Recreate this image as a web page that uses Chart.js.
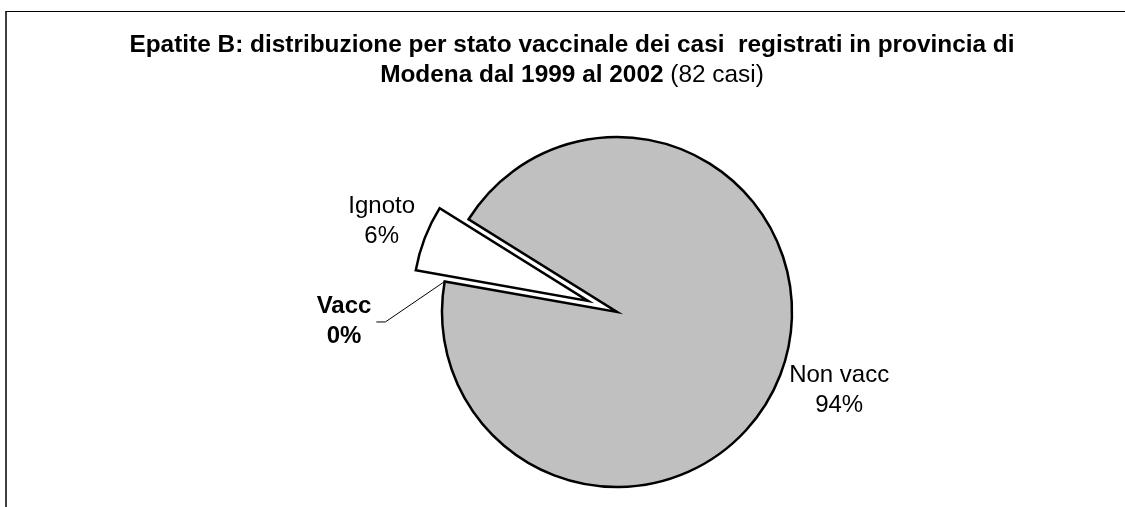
<!DOCTYPE html>
<html lang="it">
<head>
<meta charset="utf-8">
<title>Epatite B - stato vaccinale</title>
<script src="https://cdn.jsdelivr.net/npm/chart.js@4.4.0/dist/chart.umd.min.js"></script>
<style>
  html, body { margin: 0; padding: 0; background: #fff; overflow: hidden; }
  #wrap { position: relative; width: 1125px; height: 507px; overflow: hidden; font-family: 'Liberation Sans', Arial, sans-serif; }
  .cornice { position: absolute; left: 5px; top: 11px; width: 1300px; height: 700px; border-top: 1px solid #000; border-left: 2px solid #404040; }
  .titolo { position: absolute; left: 72px; width: 1000px; top: 29px; text-align: center; font-size: 24.4px; line-height: 30px; color: #000; white-space: pre; }
  canvas { position: absolute; left: 0; top: 0; }
</style>
</head>
<body>
<div id="wrap">
  <div class="cornice"></div>
  <canvas id="pieChart" width="1125" height="507"></canvas>
  <div class="titolo"><b>Epatite B: distribuzione per stato vaccinale dei casi  registrati in provincia di</b><br><b>Modena dal 1999 al 2002</b> (82 casi)</div>
</div>
<script>
// dati (82 casi in totale)
const categorie = ['Non vacc', 'Vacc', 'Ignoto'];
const casi = [77, 0, 5];
const coloriFette = ['#C0C0C0', '#FFFFFF', '#FFFFFF'];

const totale = casi.reduce((a, b) => a + b, 0);
const percentuali = casi.map(v => Math.round(v / totale * 100) + '%');

// sposta la fetta "esplosa" senza ingrandirla (come in Excel)
const esplodi = {
  id: 'esplodi',
  afterDatasetsUpdate(chart, args, opts) {
    const meta = chart.getDatasetMeta(0);
    meta.data.forEach((arc, i) => {
      const d = opts.distanze[i] || 0;
      if (!d || arc._esploso) return;
      const base = Object.getPrototypeOf(arc).draw;
      arc.draw = function (ctx, area) {
        const mid = (this.startAngle + this.endAngle) / 2;
        ctx.save();
        ctx.translate(Math.cos(mid) * d, Math.sin(mid) * d);
        base.call(this, ctx, area);
        ctx.restore();
      };
      arc._esploso = true;
    });
  }
};

// etichette categoria + percentuale fuori dalla torta
const etichette = {
  id: 'etichette',
  afterDatasetsDraw(chart, args, opts) {
    const ctx = chart.ctx;
    const meta = chart.getDatasetMeta(0);
    meta.data.forEach((arc, i) => {
      const mid = (arc.startAngle + arc.endAngle) / 2;
      const ang = mid + opts.spostamento[i] * Math.PI / 180;
      const x = arc.x + Math.cos(ang) * opts.distanza[i];
      const y = arc.y + Math.sin(ang) * opts.distanza[i];
      ctx.save();
      ctx.font = (opts.grassetto[i] ? 'bold ' : '') + '24px "Liberation Sans", Arial, sans-serif';
      ctx.fillStyle = '#000';
      ctx.textAlign = 'center';
      ctx.textBaseline = 'alphabetic';
      ctx.fillText(categorie[i], x, y - 15);
      ctx.fillText(percentuali[i], x, y + 15);
      if (opts.guida[i]) {
        const w = Math.max(ctx.measureText(categorie[i]).width, ctx.measureText(percentuali[i]).width) / 2;
        ctx.strokeStyle = '#000';
        ctx.lineWidth = 1;
        ctx.beginPath();
        ctx.moveTo(arc.x + Math.cos(mid) * arc.outerRadius, arc.y + Math.sin(mid) * arc.outerRadius);
        ctx.lineTo(x + w + 14, y - 6.5);
        ctx.lineTo(x + w + 5, y - 6.5);
        ctx.stroke();
      }
      ctx.restore();
    });
  }
};

new Chart(document.getElementById('pieChart').getContext('2d'), {
  type: 'pie',
  data: {
    labels: categorie,
    datasets: [{
      data: casi,
      backgroundColor: coloriFette,
      borderColor: '#000',
      borderWidth: 2.5,
      borderJoinStyle: 'miter',
    }]
  },
  options: {
    responsive: false,
    devicePixelRatio: 1,
    animation: false,
    events: [],
    rotation: 302,
    radius: 175,
    layout: { padding: { top: 117, left: 109, right: 0, bottom: 0 } },
    plugins: {
      legend: { display: false },
      tooltip: { enabled: false },
      esplodi: { distanze: [0, 0, 31] },
      etichette: {
        distanza: [238, 273.5, 250],
        spostamento: [0, -13.5, -1.3],
        grassetto: [false, true, false],
        guida: [false, true, false]
      }
    }
  },
  plugins: [esplodi, etichette]
});
</script>
</body>
</html>
